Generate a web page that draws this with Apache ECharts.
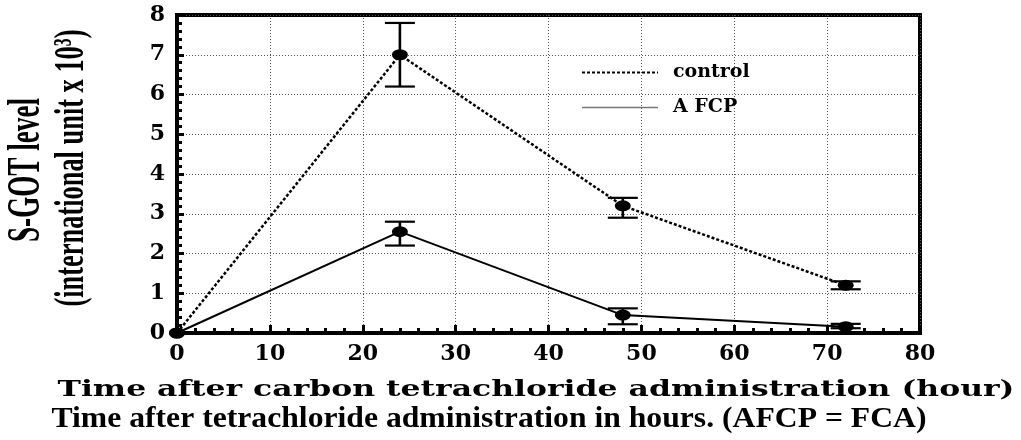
<!DOCTYPE html>
<html>
<head>
<meta charset="utf-8">
<script src="https://cdn.jsdelivr.net/npm/echarts@6/dist/echarts.min.js"></script>
<style>
  html, body { margin: 0; padding: 0; background: #fff; }
  #chart { width: 1021px; height: 440px; }
</style>
</head>
<body>
<div id="chart"></div>
<script>
// Sampling times (hours after CCl4 dose)
const hours = [0, 24, 48, 72];

// Control group: mean S-GOT and error-bar limits (x 10^3 IU)
const controlMean = [0, 7.0, 3.2, 1.2];
const controlLow  = [null, 6.2, 2.9, 1.1];
const controlHigh = [null, 7.8, 3.4, 1.3];

// A FCP treated group
const afcpMean = [0, 2.55, 0.45, 0.16];
const afcpLow  = [null, 2.2, 0.22, 0.12];
const afcpHigh = [null, 2.8, 0.62, 0.23];

const seriesNames = ['control', 'A FCP'];
const yTitleLines = ['S-GOT level', '(international unit x 10\u00B3)'];
const xTitle = 'Time after carbon tetrachloride administration (hour)';
const caption = 'Time after tetrachloride administration in hours. (AFCP = FCA)';

const chart = echarts.init(document.getElementById('chart'), null, { renderer: 'canvas' });

// text measuring, used to stretch/condense titles to their column width
const measureCtx = document.createElement('canvas').getContext('2d');
function fitText(str, family, size, cx, cy, len, rotation) {
  const font = 'bold ' + size + 'px ' + family;
  measureCtx.font = font;
  const w = measureCtx.measureText(str).width;
  return {
    type: 'text',
    x: cx, y: cy,
    rotation: rotation || 0,
    scaleX: len / w,
    silent: true,
    style: {
      text: str, font: font, fill: '#000',
      align: 'center', verticalAlign: 'middle',
      textAlign: 'center', textVerticalAlign: 'middle'
    }
  };
}

function points(mean) {
  return hours.map((h, i) => [h, mean[i]]);
}
function errorRows(low, high) {
  return hours
    .map((h, i) => (low[i] == null ? null : [h, low[i], high[i]]))
    .filter(Boolean);
}

function renderErrorBar(params, api) {
  const x = api.value(0);
  const lo = api.coord([x, api.value(1)]);
  const hi = api.coord([x, api.value(2)]);
  const hw = 15;
  const style = { stroke: '#000', lineWidth: 2.2 };
  return {
    type: 'group',
    children: [
      { type: 'line', shape: { x1: lo[0], y1: lo[1], x2: hi[0], y2: hi[1] }, style: { stroke: '#000', lineWidth: 2.6 } },
      { type: 'line', shape: { x1: lo[0] - hw, y1: lo[1], x2: lo[0] + hw, y2: lo[1] }, style: style },
      { type: 'line', shape: { x1: hi[0] - hw, y1: hi[1], x2: hi[0] + hw, y2: hi[1] }, style: style }
    ]
  };
}

const tickFont = { fontFamily: '"DejaVu Serif"', fontWeight: 'bold', fontSize: 22, color: '#000' };
const gridLine = { show: true, lineStyle: { color: '#555', width: 1, type: [1, 2] } };

const option = {
  animation: false,
  backgroundColor: '#fff',
  grid: {
    left: 177, top: 15, right: 101, bottom: 107,
    show: true, borderColor: '#000', borderWidth: 4
  },
  legend: {
    orient: 'vertical',
    left: 581, top: 63,
    padding: 0,
    itemWidth: 76, itemHeight: 20, itemGap: 16,
    itemStyle: { opacity: 0 },
    textStyle: {
      fontFamily: '"DejaVu Serif"', fontWeight: 'bold', fontSize: 19, color: '#000',
      padding: [0, 0, 0, 10]
    },
    data: [
      { name: seriesNames[0] },
      { name: seriesNames[1], lineStyle: { color: '#777', width: 1.5, type: 'solid' } }
    ]
  },
  xAxis: {
    type: 'value', min: 0, max: 80, interval: 10,
    axisLine: { onZero: false, lineStyle: { color: '#000', width: 4 } },
    axisTick: { inside: true, length: 8, lineStyle: { color: '#000', width: 3 } },
    minorTick: { show: true, splitNumber: 5, length: 5, lineStyle: { color: '#000', width: 3 } },
    splitLine: gridLine,
    axisLabel: Object.assign({ margin: 10 }, tickFont)
  },
  yAxis: {
    type: 'value', min: 0, max: 8, interval: 1,
    axisLine: { onZero: false, lineStyle: { color: '#000', width: 4 } },
    axisTick: { inside: true, length: 7, lineStyle: { color: '#000', width: 3 } },
    minorTick: { show: true, splitNumber: 5, length: 5, lineStyle: { color: '#000', width: 3 } },
    splitLine: gridLine,
    axisLabel: Object.assign({ margin: 12 }, tickFont)
  },
  series: [
    {
      name: 'control error', type: 'custom', z: 2,
      renderItem: renderErrorBar,
      encode: { x: 0, y: [1, 2] },
      data: errorRows(controlLow, controlHigh)
    },
    {
      name: 'A FCP error', type: 'custom', z: 2,
      renderItem: renderErrorBar,
      encode: { x: 0, y: [1, 2] },
      data: errorRows(afcpLow, afcpHigh)
    },
    {
      name: seriesNames[0], type: 'line', z: 3,
      data: points(controlMean),
      symbol: 'circle', symbolSize: [16, 11],
      itemStyle: { color: '#000' },
      lineStyle: { color: '#000', width: 2.5, type: [3, 2] }
    },
    {
      name: seriesNames[1], type: 'line', z: 3,
      data: points(afcpMean),
      symbol: 'circle', symbolSize: [16, 11],
      itemStyle: { color: '#000' },
      lineStyle: { color: '#000', width: 2 }
    }
  ],
  graphic: [
    fitText(yTitleLines[0], '"Liberation Serif"', 46, 27, 170, 144, Math.PI / 2),
    fitText(yTitleLines[1], '"Liberation Serif"', 42, 72, 168, 277, Math.PI / 2),
    fitText(xTitle, '"DejaVu Serif"', 22, 536, 390, 957, 0),
    fitText(caption, '"Liberation Serif"', 29, 489, 420, 875, 0)
  ]
};

chart.setOption(option);
</script>
</body>
</html>
